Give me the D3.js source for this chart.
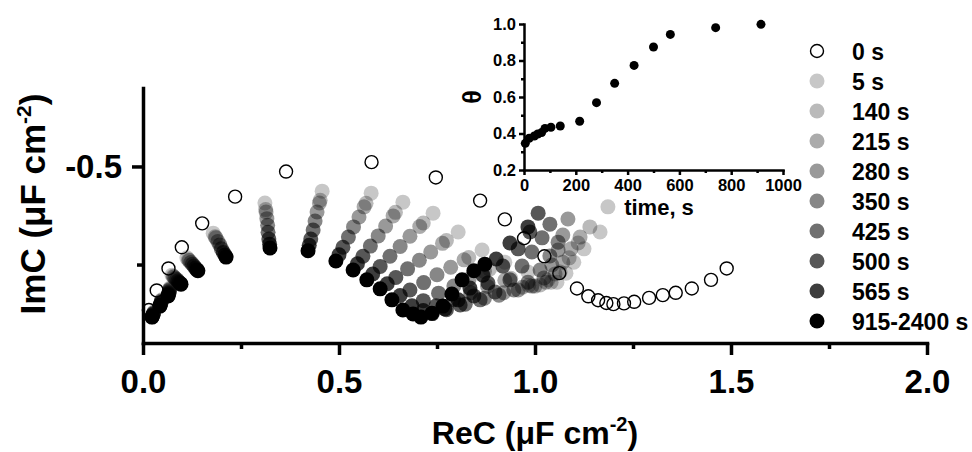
<!DOCTYPE html>
<html>
<head>
<meta charset="utf-8">
<script src="https://cdn.jsdelivr.net/npm/d3@7"></script>
<style>
  body { margin: 0; background: #fff; }
  svg { display: block; font-family: 'Liberation Sans', Arial, sans-serif; font-weight: bold; }
</style>
</head>
<body>
<div id="chart"></div>
<script>
// legend / series names
var legendLabels = ['0 s', '5 s', '140 s', '215 s', '280 s', '350 s', '425 s', '500 s', '565 s', '915-2400 s'];

// [ReC, ImC] in uF cm-2
var s0 = [[0.015, -0.134], [0.035, -0.184], [0.065, -0.240], [0.099, -0.294], [0.151, -0.355], [0.235, -0.423],
  [0.365, -0.487], [0.583, -0.511], [0.747, -0.472], [0.860, -0.413], [0.923, -0.365], [0.972, -0.317],
  [1.024, -0.271], [1.062, -0.228], [1.107, -0.189], [1.136, -0.169], [1.161, -0.159], [1.182, -0.152],
  [1.200, -0.149], [1.227, -0.151], [1.253, -0.155], [1.291, -0.165], [1.326, -0.172], [1.359, -0.178],
  [1.400, -0.189], [1.449, -0.211], [1.489, -0.240]];
var s5 = [[0.028, -0.129], [0.048, -0.160], [0.069, -0.190], [0.074, -0.223], [0.112, -0.267], [0.179, -0.330],
  [0.311, -0.407], [0.457, -0.437], [0.582, -0.432], [0.663, -0.409], [0.740, -0.381], [0.804, -0.333],
  [0.865, -0.287], [0.923, -0.256], [0.982, -0.231], [1.033, -0.211], [1.056, -0.205], [1.079, -0.228],
  [1.099, -0.256], [1.125, -0.290], [1.166, -0.333], [1.186, -0.397]];
var s140 = [[0.027, -0.127], [0.047, -0.158], [0.068, -0.187], [0.077, -0.220], [0.116, -0.262], [0.184, -0.321],
  [0.313, -0.390], [0.452, -0.414], [0.569, -0.406], [0.644, -0.383], [0.715, -0.356], [0.774, -0.311],
  [0.831, -0.268], [0.884, -0.238], [0.938, -0.215], [0.984, -0.197], [1.013, -0.198], [1.041, -0.205],
  [1.064, -0.231], [1.087, -0.267], [1.110, -0.305], [1.140, -0.346]];
var s215 = [[0.027, -0.126], [0.047, -0.157], [0.068, -0.186], [0.079, -0.218], [0.118, -0.260], [0.186, -0.318],
  [0.314, -0.384], [0.450, -0.407], [0.564, -0.397], [0.638, -0.374], [0.706, -0.347], [0.764, -0.304],
  [0.819, -0.262], [0.871, -0.232], [0.923, -0.210], [0.968, -0.192], [1.000, -0.195], [1.028, -0.205],
  [1.051, -0.226], [1.071, -0.256], [1.092, -0.290], [1.115, -0.320]];
var s280 = [[0.026, -0.124], [0.046, -0.154], [0.067, -0.183], [0.082, -0.215], [0.122, -0.255], [0.191, -0.309],
  [0.316, -0.367], [0.444, -0.384], [0.551, -0.371], [0.619, -0.348], [0.681, -0.322], [0.734, -0.282],
  [0.785, -0.243], [0.832, -0.213], [0.879, -0.194], [0.920, -0.178], [0.957, -0.185], [0.992, -0.195],
  [1.023, -0.216], [1.043, -0.249], [1.059, -0.287], [1.071, -0.325], [1.084, -0.366]];
var s350 = [[0.026, -0.123], [0.046, -0.152], [0.067, -0.180], [0.086, -0.212], [0.126, -0.251], [0.196, -0.300],
  [0.318, -0.350], [0.439, -0.361], [0.537, -0.346], [0.600, -0.323], [0.656, -0.296], [0.705, -0.261],
  [0.750, -0.224], [0.793, -0.195], [0.836, -0.178], [0.871, -0.164], [0.908, -0.172], [0.946, -0.185],
  [0.982, -0.205], [1.013, -0.236], [1.038, -0.272], [1.059, -0.307]];
var s425 = [[0.025, -0.121], [0.045, -0.150], [0.066, -0.177], [0.089, -0.208], [0.130, -0.246], [0.200, -0.290],
  [0.319, -0.332], [0.434, -0.338], [0.524, -0.320], [0.580, -0.297], [0.630, -0.271], [0.675, -0.239],
  [0.716, -0.204], [0.754, -0.177], [0.792, -0.161], [0.822, -0.149], [0.860, -0.160], [0.898, -0.180],
  [0.936, -0.211], [0.967, -0.246], [0.992, -0.282], [1.018, -0.318], [1.038, -0.353]];
var s500 = [[0.024, -0.119], [0.044, -0.147], [0.065, -0.174], [0.092, -0.205], [0.134, -0.241], [0.205, -0.281],
  [0.321, -0.315], [0.428, -0.315], [0.510, -0.294], [0.561, -0.271], [0.605, -0.245], [0.645, -0.217],
  [0.681, -0.185], [0.715, -0.158], [0.748, -0.145], [0.774, -0.135], [0.809, -0.147], [0.844, -0.170],
  [0.880, -0.203], [0.918, -0.246], [0.957, -0.290], [0.987, -0.333], [1.008, -0.381]];
var s565 = [[0.023, -0.117], [0.043, -0.145], [0.064, -0.172], [0.095, -0.202], [0.137, -0.237], [0.209, -0.274],
  [0.323, -0.302], [0.424, -0.299], [0.500, -0.275], [0.547, -0.252], [0.586, -0.226], [0.623, -0.201],
  [0.656, -0.171], [0.686, -0.145], [0.715, -0.133], [0.738, -0.125], [0.770, -0.137], [0.804, -0.160],
  [0.834, -0.190], [0.867, -0.223], [0.901, -0.264], [0.936, -0.305], [0.982, -0.346]];
var s915 = [[0.023, -0.116], [0.043, -0.144], [0.064, -0.170], [0.097, -0.200], [0.140, -0.234], [0.212, -0.269],
  [0.324, -0.292], [0.421, -0.285], [0.492, -0.259], [0.536, -0.236], [0.571, -0.211], [0.605, -0.188],
  [0.635, -0.160], [0.663, -0.134], [0.689, -0.124], [0.709, -0.116], [0.737, -0.126], [0.765, -0.144],
  [0.788, -0.175], [0.814, -0.211], [0.844, -0.234], [0.872, -0.251]];

var filledSeries = [s5, s140, s215, s280, s350, s425, s500, s565, s915];
// black fill opacity per filled series, lightest first
var seriesOpacity = [0.22, 0.27, 0.33, 0.40, 0.47, 0.56, 0.66, 0.76, 1];

var xTicks = [0, 0.5, 1, 1.5, 2];
var xMinorTicks = [0.25, 0.75, 1.25, 1.75];
var yTicks = [-0.5];
var yMinorTicks = [-0.25];

// inset: coverage vs time
var insetTime = [5, 20, 40, 53, 68, 81, 104, 140, 215, 280, 350, 425, 500, 565, 740, 915];
var insetTheta = [0.346, 0.374, 0.386, 0.397, 0.405, 0.428, 0.434, 0.441, 0.467, 0.569, 0.675, 0.773, 0.874, 0.943, 0.980, 0.998];
var insetXTicks = [0, 200, 400, 600, 800, 1000];
var insetXMinor = [100, 300, 500, 700, 900];
var insetYTicks = [0.2, 0.4, 0.6, 0.8, 1.0];
var insetYMinor = [0.3, 0.5, 0.7, 0.9];

var WIDTH = 972;
var HEIGHT = 452;

var svg = d3.select('#chart')
  .append('svg')
  .attr('width', WIDTH)
  .attr('height', HEIGHT);

var x = d3.scaleLinear().domain([0, 2]).range([143, 927]);
var y = d3.scaleLinear().domain([-0.05, -0.7]).range([343, 88]);

var fmt1 = function(d) { return d.toFixed(1); };

function styleAxis(g, width, fontSize) {
  g.attr('font-family', null).attr('font-size', null);
  g.selectAll('.domain').attr('stroke-width', width).attr('stroke-linecap', 'square');
  g.selectAll('.tick line').attr('stroke-width', width);
  g.selectAll('.tick text').attr('font-size', fontSize).attr('font-weight', 'bold').attr('fill', '#000');
}

// main axes
svg.append('g')
  .attr('transform', 'translate(0,343)')
  .call(d3.axisBottom(x).tickValues(xMinorTicks).tickFormat('').tickSize(6).tickSizeOuter(0))
  .call(function(g) { g.select('.domain').remove(); styleAxis(g, 3.5, 0); });

svg.append('g')
  .attr('transform', 'translate(0,343)')
  .call(d3.axisBottom(x).tickValues(xTicks).tickFormat(fmt1).tickSize(12).tickSizeOuter(0).tickPadding(15))
  .call(function(g) { styleAxis(g, 3.5, 33); });

svg.append('g')
  .attr('transform', 'translate(143,0)')
  .call(d3.axisLeft(y).tickValues(yMinorTicks).tickFormat('').tickSize(6).tickSizeOuter(0))
  .call(function(g) { g.select('.domain').remove(); styleAxis(g, 3.5, 0); });

svg.append('g')
  .attr('transform', 'translate(143,0)')
  .call(d3.axisLeft(y).tickValues(yTicks).tickFormat(fmt1).tickSize(11).tickSizeOuter(0).tickPadding(10))
  .call(function(g) { styleAxis(g, 3.5, 33); });

// axis titles
var xTitle = svg.append('text')
  .attr('x', 535)
  .attr('y', 444)
  .attr('text-anchor', 'middle')
  .attr('font-size', 32);
xTitle.append('tspan').text('ReC (\u03bcF cm');
xTitle.append('tspan').attr('font-size', 20).attr('dy', -13).text('-2');
xTitle.append('tspan').attr('dy', 13).text(')');

var yTitle = svg.append('text')
  .attr('transform', 'translate(45,204) rotate(-90)')
  .attr('text-anchor', 'middle')
  .attr('font-size', 35);
yTitle.append('tspan').text('ImC (\u03bcF cm');
yTitle.append('tspan').attr('font-size', 21).attr('dy', -14).text('-2');
yTitle.append('tspan').attr('dy', 14).text(')');

// filled series, lightest first
filledSeries.forEach(function(series, i) {
  svg.append('g')
    .selectAll('circle')
    .data(series)
    .join('circle')
    .attr('cx', function(d) { return x(d[0]); })
    .attr('cy', function(d) { return y(d[1]); })
    .attr('r', 7.5)
    .attr('fill', '#000')
    .attr('fill-opacity', seriesOpacity[i]);
});

// 0 s on top, open markers
svg.append('g')
  .selectAll('circle')
  .data(s0)
  .join('circle')
  .attr('cx', function(d) { return x(d[0]); })
  .attr('cy', function(d) { return y(d[1]); })
  .attr('r', 6.5)
  .attr('fill', 'none')
  .attr('stroke', '#000')
  .attr('stroke-width', 1.4);

// legend
var legend = svg.append('g').attr('transform', 'translate(817,51)');
legendLabels.forEach(function(label, i) {
  var row = legend.append('g').attr('transform', 'translate(0,' + (i * 30) + ')');
  if (i === 0) {
    row.append('circle').attr('r', 6.5).attr('fill', '#fff').attr('stroke', '#000').attr('stroke-width', 1.4);
  } else {
    row.append('circle').attr('r', 7.5).attr('fill', '#000').attr('fill-opacity', seriesOpacity[i - 1]);
  }
  row.append('text')
    .attr('x', 35)
    .attr('y', 8.5)
    .attr('font-size', 23)
    .text(label);
});

// inset
var xi = d3.scaleLinear().domain([0, 1000]).range([524, 783]);
var yi = d3.scaleLinear().domain([0.2, 1]).range([170, 24]);

svg.append('g')
  .attr('transform', 'translate(0,170)')
  .call(d3.axisBottom(xi).tickValues(insetXMinor).tickFormat('').tickSize(3).tickSizeOuter(0))
  .call(function(g) { g.select('.domain').remove(); styleAxis(g, 2.5, 0); });
svg.append('g')
  .attr('transform', 'translate(0,170)')
  .call(d3.axisBottom(xi).tickValues(insetXTicks).tickFormat(d3.format('d')).tickSize(5).tickSizeOuter(0).tickPadding(4))
  .call(function(g) { styleAxis(g, 2.5, 16.5); });
svg.append('g')
  .attr('transform', 'translate(524,0)')
  .call(d3.axisLeft(yi).tickValues(insetYMinor).tickFormat('').tickSize(3).tickSizeOuter(0))
  .call(function(g) { g.select('.domain').remove(); styleAxis(g, 2.5, 0); });
svg.append('g')
  .attr('transform', 'translate(524,0)')
  .call(d3.axisLeft(yi).tickValues(insetYTicks).tickFormat(fmt1).tickSize(5).tickSizeOuter(0).tickPadding(3))
  .call(function(g) { styleAxis(g, 2.5, 16.5); });

svg.append('g')
  .selectAll('circle')
  .data(insetTime)
  .join('circle')
  .attr('cx', function(d) { return xi(d); })
  .attr('cy', function(d, i) { return yi(insetTheta[i]); })
  .attr('r', 4.5)
  .attr('fill', '#000');

svg.append('text')
  .attr('x', 659)
  .attr('y', 215)
  .attr('text-anchor', 'middle')
  .attr('font-size', 22)
  .text('time, s');

svg.append('text')
  .attr('transform', 'translate(481,97) rotate(-90)')
  .attr('text-anchor', 'middle')
  .attr('font-size', 25)
  .text('\u03b8');
</script>
</body>
</html>
